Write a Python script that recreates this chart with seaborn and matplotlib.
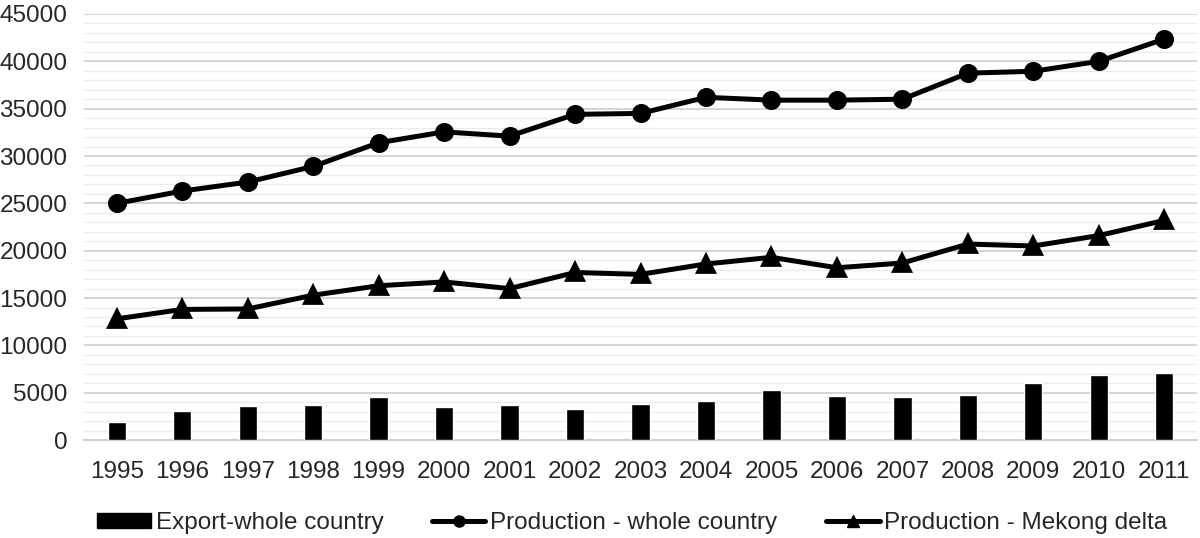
import numpy as np
import pandas as pd
import matplotlib
matplotlib.use('Agg')
import matplotlib.pyplot as plt
from matplotlib.ticker import MultipleLocator, FixedLocator
from matplotlib.patches import Patch
from matplotlib.lines import Line2D
import seaborn as sns

years = [str(y) for y in range(1995, 2012)]
export_whole = [1950, 3050, 3650, 3750, 4500, 3500, 3750, 3300, 3800, 4100,
                5250, 4700, 4600, 4750, 6000, 6900, 7100]
prod_whole = [25000, 26300, 27250, 28900, 31400, 32550, 32100, 34400, 34500, 36200,
              35900, 35900, 36000, 38750, 38950, 40000, 42350]
prod_mekong = [12800, 13800, 13850, 15300, 16300, 16700, 16000, 17700, 17500, 18600,
               19300, 18200, 18700, 20700, 20500, 21600, 23200]

df = pd.DataFrame({'year': years, 'export': export_whole,
                   'prod': prod_whole, 'mekong': prod_mekong})

sns.set_style('white')
plt.rcParams['font.family'] = ['Liberation Sans', 'DejaVu Sans']

fig = plt.figure(figsize=(12, 5.38), dpi=100)
ax = fig.add_axes([0.07, 0.182, 0.9275, 0.792])

sns.barplot(data=df, x='year', y='export', color='black', width=0.28,
            saturation=1, ax=ax, zorder=3)
sns.pointplot(data=df, x='year', y='prod', color='black', markers='o',
              markersize=11, linewidth=3.6, ax=ax, zorder=4)
sns.pointplot(data=df, x='year', y='mekong', color='black', markers='^',
              markersize=12, linewidth=3.6, ax=ax, zorder=4)

ax.set_ylim(0, 45000)
ax.set_xlim(-0.5, len(years) - 0.5)
ax.yaxis.set_major_locator(MultipleLocator(5000))
ax.yaxis.set_minor_locator(MultipleLocator(1000))
ax.yaxis.grid(True, which='major', color='#d4d4d4', linewidth=1.4, zorder=0)
ax.yaxis.grid(True, which='minor', color='#ebebeb', linewidth=1.0, zorder=0)
ax.set_axisbelow(True)

ax.xaxis.set_minor_locator(FixedLocator(np.arange(-0.5, len(years), 1.0)))
ax.tick_params(axis='x', which='major', length=0, labelsize=17.5, pad=15)
ax.tick_params(axis='x', which='minor', length=6, width=1.2, color='#cfcfcf')
ax.tick_params(axis='y', which='both', length=0, labelsize=17.5, pad=12)

for s in ['top', 'right', 'left']:
    ax.spines[s].set_visible(False)
ax.spines['bottom'].set_color('#cfcfcf')
ax.spines['bottom'].set_linewidth(1.4)

ax.set_xlabel('')
ax.set_ylabel('')

handles = [
    Patch(facecolor='black', edgecolor='black'),
    Line2D([], [], color='black', linewidth=3.6, marker='o', markersize=8),
    Line2D([], [], color='black', linewidth=3.6, marker='^', markersize=9),
]
labels = ['Export-whole country', 'Production - whole country', 'Production - Mekong delta']
fig.legend(handles, labels, loc='center', bbox_to_anchor=(0.527, 0.028), ncol=3,
           frameon=False, fontsize=17.5, handlelength=2.2, handleheight=0.6,
           handletextpad=0.2, columnspacing=2.0)

fig.savefig('out.png', dpi=100)
